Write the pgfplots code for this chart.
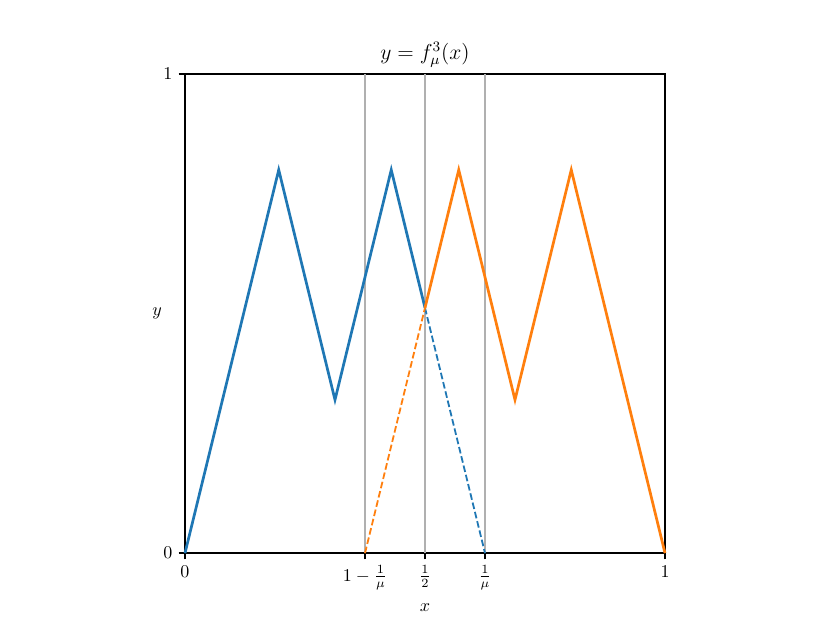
\documentclass[border=0pt]{standalone}
\usepackage{pgfplots}
\pgfplotsset{compat=1.18}
\usetikzlibrary{calc}
\definecolor{mplblue}{HTML}{1F77B4}
\definecolor{mplorange}{HTML}{FF7F0E}
\definecolor{vgray}{HTML}{B0B0B0}

\begin{document}
\begin{tikzpicture}
  \begin{axis}[
      width=266.5pt, height=266pt, scale only axis,
      xmin=0, xmax=1, ymin=0, ymax=1,
      xtick={0,0.375,0.5,0.625,1},
      xticklabels={$0$,$1-\frac{1}{\mu}$,$\frac{1}{2}$,$\frac{1}{\mu}$,$1$},
      ytick={0,1},
      tick align=outside,
      xtick pos=bottom, ytick pos=left,
      major tick length=3.5pt,
      every tick/.style={black, line width=0.8pt},
      axis line style={line width=0.8pt},
      tick label style={font=\fontsize{10}{12}\selectfont},
      title={$y=f^3_\mu(x)$},
      title style={font=\fontsize{12}{14}\selectfont, yshift=-6pt},
      xlabel={$x$}, ylabel={$y$},
      label style={font=\fontsize{10}{12}\selectfont},
      ylabel style={rotate=-90, xshift=6pt},
      xlabel style={yshift=-1pt},
      clip=false,
    ]
    \path (rel axis cs:0,0) coordinate (sw) (rel axis cs:1,1) coordinate (ne);
    \addplot[vgray, line width=1pt, forget plot] coordinates {(0.375,0) (0.375,1)};
    \addplot[vgray, line width=1pt, forget plot] coordinates {(0.5,0) (0.5,1)};
    \addplot[vgray, line width=1pt, forget plot] coordinates {(0.625,0) (0.625,1)};
    % f^3 with mu = 1.6, left branch
    \addplot[mplblue, line width=1.5pt] coordinates {
      (0,0) (0.1953,0.8) (0.3125,0.32) (0.4297,0.8) (0.5,0.512)};
    \addplot[mplblue, line width=1pt, dash pattern=on 3.7pt off 1.6pt] coordinates {
      (0.5,0.512) (0.625,0)};
    % mirrored branch
    \addplot[mplorange, line width=1.5pt] coordinates {
      (0.5,0.512) (0.5703,0.8) (0.6875,0.32) (0.8047,0.8) (1,0)};
    \addplot[mplorange, line width=1pt, dash pattern=on 3.7pt off 1.6pt] coordinates {
      (0.375,0) (0.5,0.512)};
  \end{axis}
  \path[use as bounding box] ($(sw)+(-102.7pt,-38.9pt)$) rectangle ($(ne)+(91.6pt,41.1pt)$);
\end{tikzpicture}
\end{document}
